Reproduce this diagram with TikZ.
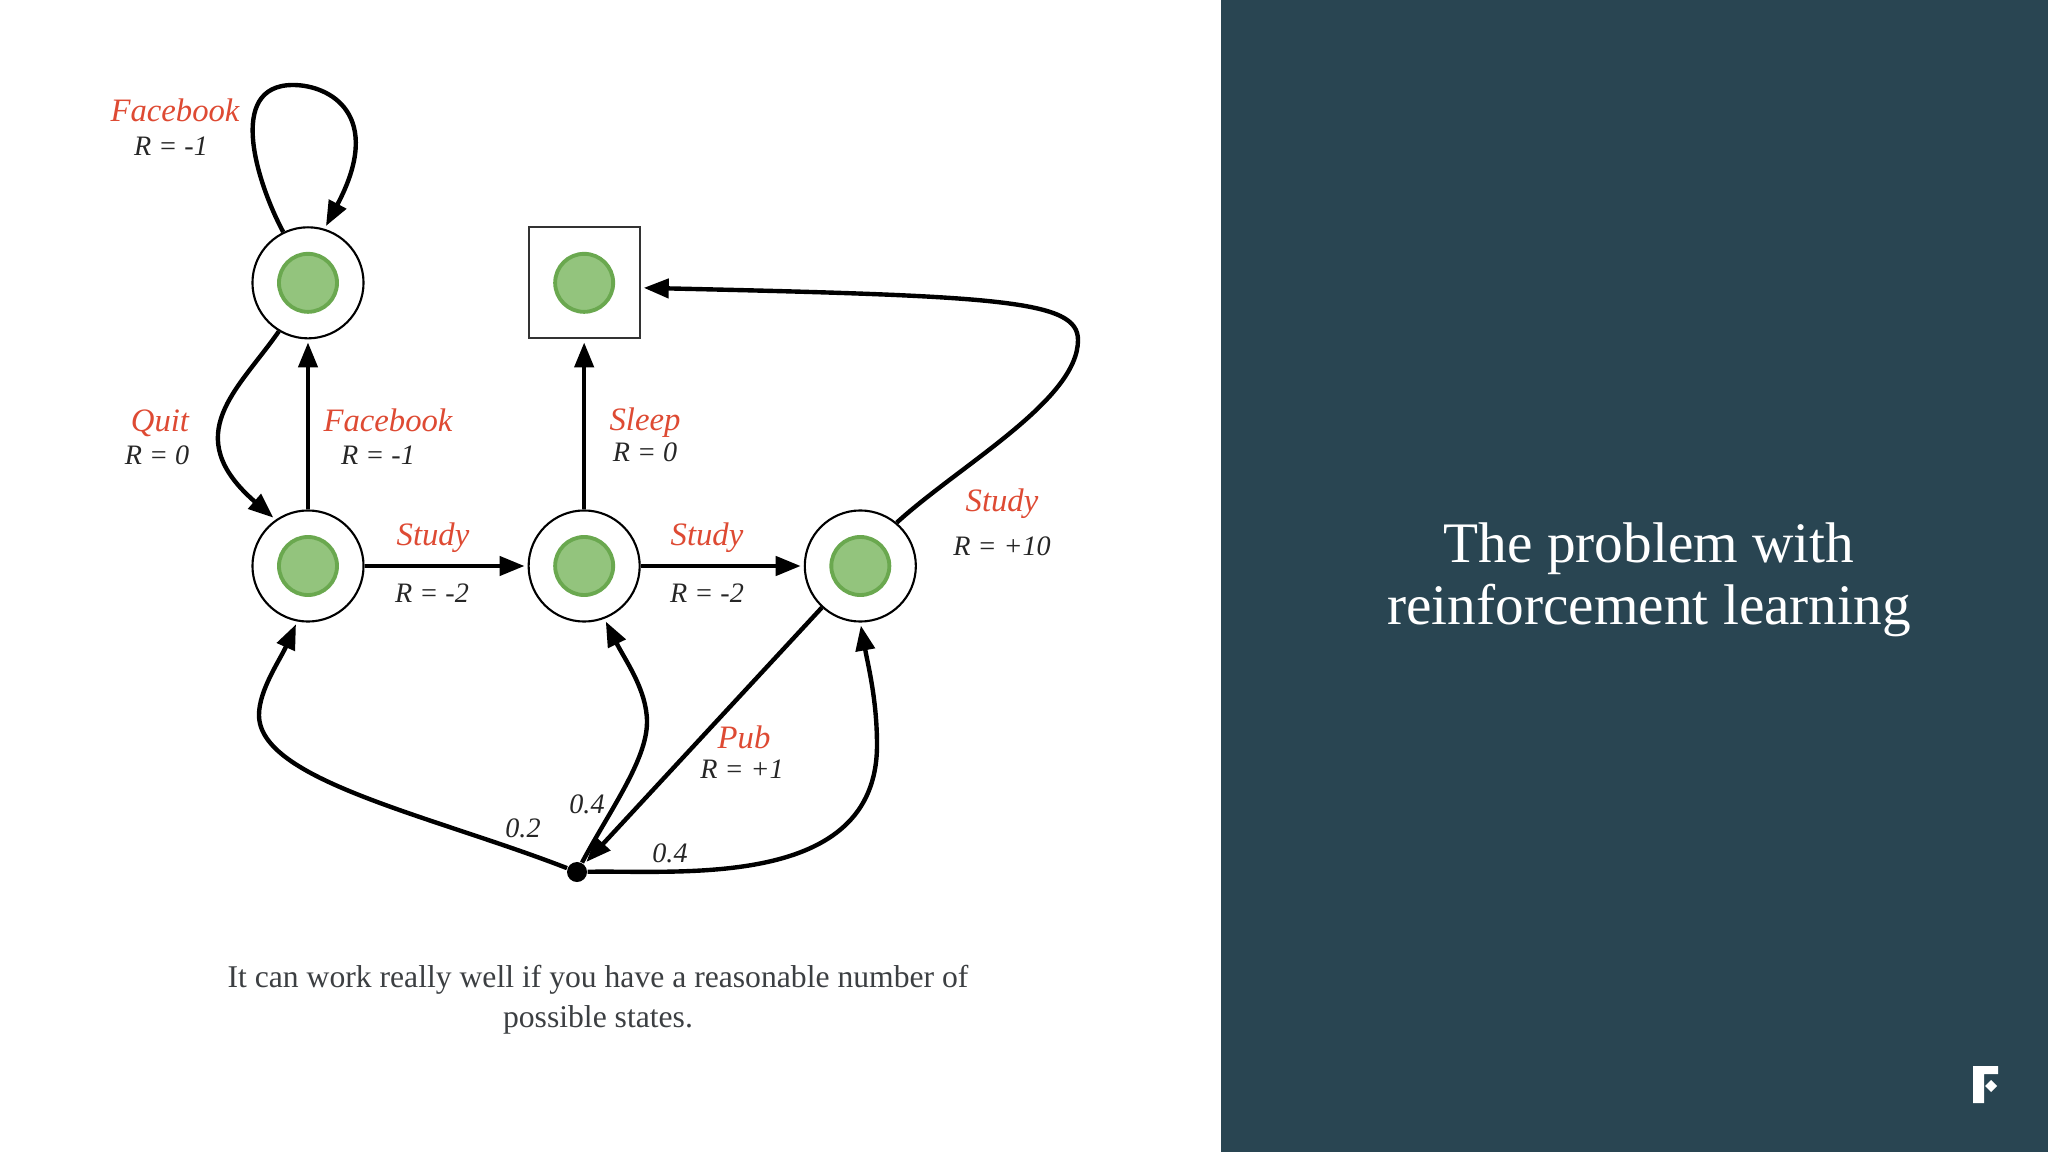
\documentclass[tikz,border=0pt]{standalone}
\usepackage{fontspec}
\setmainfont{Liberation Serif}
\usetikzlibrary{arrows.meta}
\definecolor{panelblue}{HTML}{294552}
\definecolor{actred}{HTML}{DE4A33}
\definecolor{captiongray}{HTML}{3C3F42}
\definecolor{dotfill}{HTML}{93C47D}
\definecolor{dotline}{HTML}{6AA84F}
\begin{document}
\begin{tikzpicture}[x=0.01cm, y=-0.01cm, node distance=2.76cm,
    state node/.style={circle,draw,fill=white,line width=0.6pt,minimum size=1.11cm,inner sep=0pt},
    end node/.style={rectangle,draw=black!80,fill=white,line width=0.6pt,minimum size=1.11cm,inner sep=0pt},
    green node/.style={circle,draw=dotline,fill=dotfill,line width=1.1pt,minimum size=0.58cm,inner sep=0pt},
    act label/.style={text=actred,font=\fontsize{9.3}{11}\selectfont\itshape,inner sep=0pt},
    reward label/.style={text=black!85,font=\fontsize{8}{10}\selectfont\itshape,inner sep=0pt},
    move/.style={line width=1.25pt,-{Triangle[length=0.25cm,width=0.19cm]},shorten >=0.03cm}]

  \useasboundingbox (0,0) rectangle (2048,1152);
  \fill[white] (0,0) rectangle (1221,1152);
  \fill[panelblue] (1221,0) rectangle (2048,1152);

  \node[state node] (s1) at (308,566) {};
  \node[state node] (s2) [right of=s1] {};
  \node[state node] (s3) [right of=s2] {};
  \node[state node] (s0) [above of=s1, node distance=2.83cm] {};
  \node[end node] (s4) [above of=s2, node distance=2.83cm] {};
  \node[circle,fill=black,minimum size=0.2cm,inner sep=0pt] (chance) at (577,872) {};

  \foreach \n in {s0,s1,s2,s3,s4}
    \node[green node] (g\n) at (\n) {};

  \coordinate (looptop) at (293,85);
  \coordinate (farright) at (1078,340);
  \coordinate (bendA) at (259,715);
  \coordinate (bendB) at (647,722);
  \coordinate (bendC) at (877,745);

  \draw[move] (s0.116) .. controls (258,185) and (225,85) .. (looptop)
    .. controls (330,85) and (385,115) .. (s0.73);
  \draw[move] (s0.239) .. controls (238,390) and (178,435) .. (s1.125);
  \draw[move] (s1) -- (s0);
  \draw[move] (s1) -- (s2);
  \draw[move] (s2) -- (s3);
  \draw[move] (s2) -- (s4);
  \draw[move] (s3.50) .. controls (960,465) and (1078,400) .. (farright)
    .. controls (1078,300) and (1000,296) .. (s4.-5);
  \draw[move] (s3) -- (chance);
  \draw[move] (chance) .. controls (430,815) and (259,780) .. (bendA)
    .. controls (259,690) and (280,660) .. (s1.259);
  \draw[move] (chance) .. controls (610,810) and (647,760) .. (bendB)
    .. controls (647,690) and (625,660) .. (s2.291);
  \draw[move] (chance) .. controls (680,870) and (877,890) .. (bendC)
    .. controls (877,700) and (868,665) .. (s3.270);

  \node[act label] (fbtop) at (175,110) {Facebook};
  \node[reward label] (rtop) at (171,146) {R = -1};
  \node[act label] (quit) at (160,423) {Quit};
  \node[reward label] (rquit) at (157,455) {R = 0};
  \node[act label] (fbmid) at (388,420) {Facebook};
  \node[reward label] (rfbmid) at (378,455) {R = -1};
  \node[act label] (sleep) at (645,423) {Sleep};
  \node[reward label] (rsleep) at (645,452) {R = 0};
  \node[act label] (studyA) at (433,538) {Study};
  \node[reward label] (rstudyA) at (432,593) {R = -2};
  \node[act label] (studyB) at (707,538) {Study};
  \node[reward label] (rstudyB) at (707,593) {R = -2};
  \node[act label] (studyC) at (1002,504) {Study};
  \node[reward label] (rstudyC) at (1002,546) {R = +10};
  \node[act label] (pub) at (744,737) {Pub};
  \node[reward label] (rpub) at (742,769) {R = +1};
  \node[reward label] (pB) at (587,804) {0.4};
  \node[reward label] (pA) at (523,828) {0.2};
  \node[reward label] (pC) at (670,853) {0.4};

  \node[text=captiongray,align=center,font=\fontsize{9}{11.4}\selectfont] (caption) at (598,1000)
    {It can work really well if you have a reasonable number of\\possible states.};
  \node[text=white,align=center,font=\fontsize{16.3}{17.6}\selectfont] (title) at (1649,580)
    {The problem with\\reinforcement learning};

  % logo
  \fill[white] (1973,1066) -- (1998,1066) -- (1998,1074) -- (1984,1074) -- (1984,1103) -- (1973,1103) -- cycle;
  \fill[white] (1991,1080) -- (1997,1086) -- (1991,1092) -- (1985,1086) -- cycle;
\end{tikzpicture}
\end{document}
